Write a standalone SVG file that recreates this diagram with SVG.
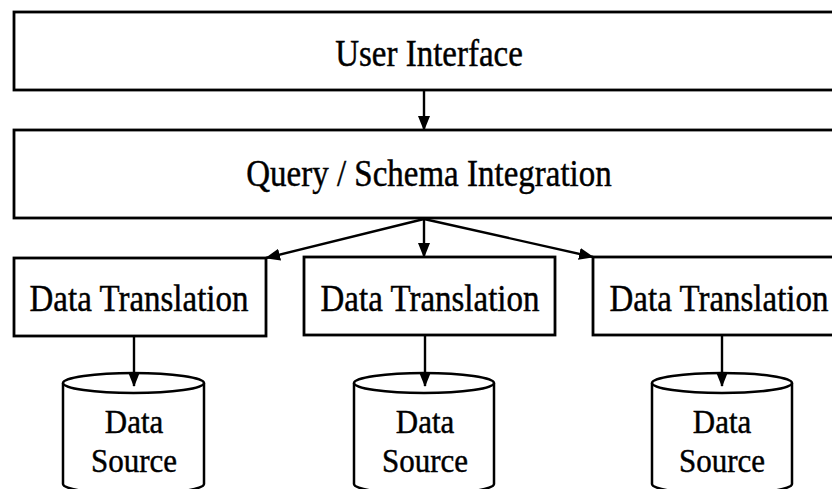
<svg xmlns="http://www.w3.org/2000/svg" width="832" height="489" viewBox="0 0 832 489">
<style>
.box{fill:#fff;stroke:#000;stroke-width:2.8}
.cyl{fill:#fff;stroke:#000;stroke-width:2.5}
.t{font-family:"Liberation Serif","Times New Roman",serif;font-size:33px;fill:#000;stroke:#000;stroke-width:0.4;text-anchor:middle}
.ds{font-family:"Liberation Serif","Times New Roman",serif;font-size:31px;fill:#000;stroke:#000;stroke-width:0.4;text-anchor:middle}
.c{stroke:#000;stroke-width:2.4;fill:none;marker-end:url(#ah)}
</style>
<defs>
<marker id="ah" markerUnits="userSpaceOnUse" viewBox="0 0 15 12" markerWidth="15" markerHeight="12" refX="14" refY="6" orient="auto">
<path d="M0,0 L15,6 L0,12 Z" fill="#000"/>
</marker>
</defs>
<rect width="832" height="489" fill="#fff"/>
<g id="user-interface">
<rect class="box" x="14" y="12" width="830" height="78"/>
<text class="t" transform="translate(429,66) scale(1,1.12)">User Interface</text>
</g>
<g id="query-schema-integration">
<rect class="box" x="14" y="130" width="830" height="88"/>
<text class="t" transform="translate(429,186) scale(1,1.12)">Query / Schema Integration</text>
</g>
<g id="data-translation-1">
<rect class="box" x="14" y="258" width="252" height="78"/>
<text class="t" transform="translate(139,311) scale(1,1.12)">Data Translation</text>
</g>
<g id="data-translation-2">
<rect class="box" x="304" y="257" width="251" height="78"/>
<text class="t" transform="translate(430,311) scale(1,1.12)">Data Translation</text>
</g>
<g id="data-translation-3">
<rect class="box" x="593" y="257" width="250" height="78"/>
<text class="t" transform="translate(719,311) scale(1,1.12)">Data Translation</text>
</g>
<g id="data-source-1">
<path class="cyl" d="M63,383 A70.5,10 0 0 1 204,383 V484 A70.5,10 0 0 1 63,484 Z"/>
<path class="cyl" d="M63,383 A70.5,10 0 0 0 204,383"/>
<text class="ds" transform="translate(134,433) scale(1,1.1)">Data</text>
<text class="ds" transform="translate(134,472) scale(1,1.1)">Source</text>
</g>
<g id="data-source-2">
<path class="cyl" d="M354,383 A70,10 0 0 1 494,383 V484 A70,10 0 0 1 354,484 Z"/>
<path class="cyl" d="M354,383 A70,10 0 0 0 494,383"/>
<text class="ds" transform="translate(425,433) scale(1,1.1)">Data</text>
<text class="ds" transform="translate(425,472) scale(1,1.1)">Source</text>
</g>
<g id="data-source-3">
<path class="cyl" d="M652,383 A70,10 0 0 1 792,383 V484 A70,10 0 0 1 652,484 Z"/>
<path class="cyl" d="M652,383 A70,10 0 0 0 792,383"/>
<text class="ds" transform="translate(722,433) scale(1,1.1)">Data</text>
<text class="ds" transform="translate(722,472) scale(1,1.1)">Source</text>
</g>
<g id="connectors">
<line class="c" x1="424" y1="91" x2="424" y2="130"/>
<line class="c" x1="424" y1="219" x2="424" y2="257"/>
<line class="c" x1="424" y1="219" x2="266" y2="258"/>
<line class="c" x1="424" y1="219" x2="593" y2="257"/>
<line class="c" x1="134" y1="337" x2="134" y2="386"/>
<line class="c" x1="425" y1="336" x2="425" y2="386"/>
<line class="c" x1="722" y1="336" x2="722" y2="386"/>
</g>
</svg>
